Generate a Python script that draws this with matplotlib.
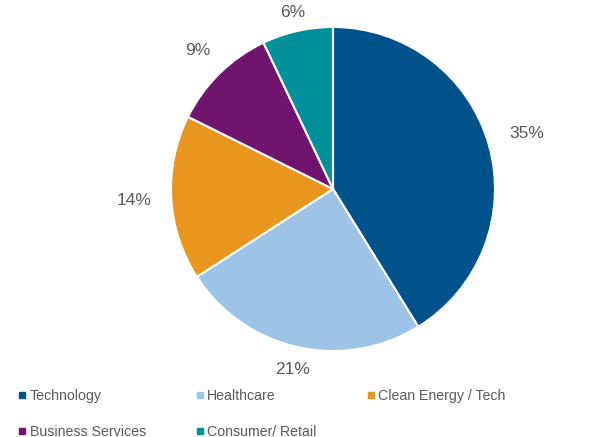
import numpy as np
import matplotlib.pyplot as plt
from matplotlib.lines import Line2D

plt.rcParams['font.family'] = ['Liberation Sans', 'DejaVu Sans']

# sector shares as shown on the chart (labels), slices drawn proportionally
sectors = ['Technology', 'Healthcare', 'Clean Energy / Tech',
           'Business Services', 'Consumer/ Retail']
shares = [35, 21, 14, 9, 6]
labels = ['35%', '21%', '14%', '9%', '6%']
colors = ['#00538A', '#9DC3E6', '#E8961E', '#701470', '#00909A']
label_dist = [1.244, 1.14, 1.228, 1.195, 1.12]

W, H = 606, 437
fig = plt.figure(figsize=(W / 100, H / 100), dpi=100)

cx, cy, r = 333, 189, 162
ax = fig.add_axes([(cx - r) / W, (H - cy - r) / H, 2 * r / W, 2 * r / H])
wedges, _ = ax.pie(shares, colors=colors, startangle=90, counterclock=False,
                   wedgeprops=dict(edgecolor='white', linewidth=1.5))
for w, lab, d in zip(wedges, labels, label_dist):
    ang = np.deg2rad((w.theta1 + w.theta2) / 2)
    ax.text(d * np.cos(ang), d * np.sin(ang), lab, ha='center', va='center',
            color='#595959', fontsize=12.5, clip_on=False)
ax.set_xlim(-1, 1)
ax.set_ylim(-1, 1)
ax.set_aspect('equal')
ax.axis('off')

# legend fills column by column, so reorder to read row by row
order = [0, 3, 1, 4, 2]
handles = [Line2D([], [], marker='s', linestyle='none', markersize=4.5,
                  color=colors[i]) for i in order]
fig.legend(handles, [sectors[i] for i in order], ncol=3, loc='upper left',
           bbox_to_anchor=(19 / W, 1 - 389 / H), frameon=False,
           fontsize=10.2, labelcolor='#595959', handlelength=0.4,
           handletextpad=0.35, columnspacing=3.6, labelspacing=1.55,
           borderaxespad=0, borderpad=0)

fig.savefig('out.png', dpi=100)
